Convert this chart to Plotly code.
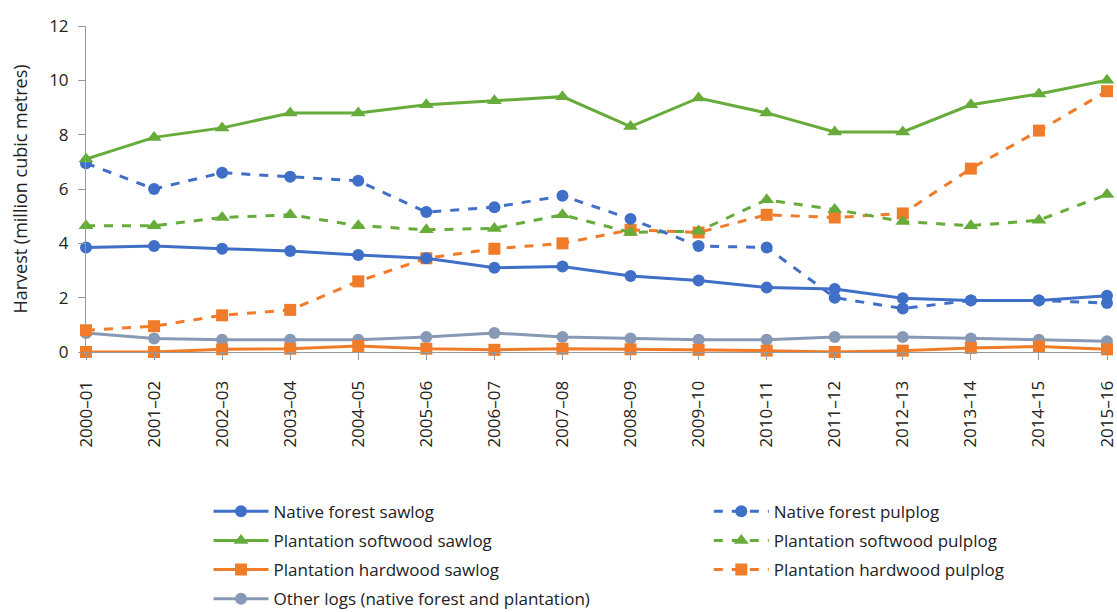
import plotly.graph_objects as go

years = ["2000–01", "2001–02", "2002–03", "2003–04", "2004–05", "2005–06", "2006–07", "2007–08",
         "2008–09", "2009–10", "2010–11", "2011–12", "2012–13", "2013–14", "2014–15", "2015–16"]

native_sawlog = [3.85, 3.9, 3.8, 3.72, 3.57, 3.45, 3.1, 3.15, 2.8, 2.63, 2.37, 2.32, 1.98, 1.9, 1.9, 2.07]
native_pulplog = [6.95, 6.0, 6.6, 6.45, 6.3, 5.15, 5.33, 5.75, 4.9, 3.9, 3.85, 2.0, 1.6, 1.9, 1.9, 1.8]
softwood_sawlog = [7.1, 7.9, 8.25, 8.8, 8.8, 9.1, 9.25, 9.4, 8.3, 9.35, 8.8, 8.1, 8.1, 9.1, 9.5, 10.0]
softwood_pulplog = [4.65, 4.65, 4.95, 5.05, 4.65, 4.5, 4.55, 5.05, 4.4, 4.45, 5.6, 5.25, 4.8, 4.65, 4.85, 5.8]
hardwood_sawlog = [0.0, 0.0, 0.1, 0.12, 0.22, 0.12, 0.08, 0.12, 0.1, 0.08, 0.05, 0.0, 0.05, 0.15, 0.2, 0.1]
hardwood_pulplog = [0.8, 0.95, 1.35, 1.55, 2.6, 3.45, 3.8, 4.0, 4.5, 4.4, 5.05, 4.95, 5.1, 6.75, 8.15, 9.6]
other_logs = [0.7, 0.5, 0.45, 0.45, 0.45, 0.55, 0.7, 0.55, 0.5, 0.45, 0.45, 0.55, 0.55, 0.5, 0.45, 0.4]

BLUE = "#3F6FC6"
GREEN = "#67AC3A"
ORANGE = "#F07C2A"
GREY = "#8799B4"

series = [
    ("Native forest sawlog", native_sawlog, BLUE, "solid", "circle", "legend"),
    ("Plantation softwood sawlog", softwood_sawlog, GREEN, "solid", "triangle-up", "legend"),
    ("Plantation hardwood sawlog", hardwood_sawlog, ORANGE, "solid", "square", "legend"),
    ("Other logs (native forest and plantation)", other_logs, GREY, "solid", "circle", "legend"),
    ("Native forest pulplog", native_pulplog, BLUE, "dash", "circle", "legend2"),
    ("Plantation softwood pulplog", softwood_pulplog, GREEN, "dash", "triangle-up", "legend2"),
    ("Plantation hardwood pulplog", hardwood_pulplog, ORANGE, "dash", "square", "legend2"),
]

draw_order = [3, 2, 6, 5, 4, 0, 1]

fig = go.Figure()
for i in draw_order:
    name, vals, col, dash, sym, leg = series[i]
    fig.add_trace(go.Scatter(
        x=years, y=vals, name=name, mode="lines+markers",
        line=dict(color=col, width=3, dash=dash),
        marker=dict(color=col, size=12 if sym != "triangle-up" else 13, symbol=sym),
        legend=leg, legendrank=i, legendgroup="g%d" % i, cliponaxis=False,
    ))

FONT = "Open Sans, sans-serif"
legend_common = dict(yanchor="top", orientation="v", font=dict(size=17, color="#222"),
                     tracegroupgap=4, itemwidth=55, bgcolor="rgba(0,0,0,0)")
fig.update_layout(
    width=1117, height=612,
    margin=dict(l=86, r=10, t=26, b=260, autoexpand=False),
    paper_bgcolor="white", plot_bgcolor="white",
    font=dict(family=FONT, size=17, color="#222222"),
    showlegend=True,
    legend=dict(x=0.12, y=-0.435, xanchor="left", **legend_common),
    legend2=dict(x=0.61, y=-0.435, xanchor="left", **legend_common),
    xaxis=dict(type="category", range=[0, 15], showline=True, linecolor="#999999", linewidth=1,
               ticks="outside", ticklen=7, tickcolor="#999999", tickangle=-90,
               ticklabelstandoff=14, automargin=False, ticklabeloverflow="allow",
               showgrid=False, zeroline=False, tickfont=dict(size=17, color="#222")),
    yaxis=dict(range=[0, 12], tickvals=[0, 2, 4, 6, 8, 10, 12], showline=True,
               linecolor="#999999", linewidth=1, ticks="outside", ticklen=7,
               tickcolor="#999999", showgrid=False, zeroline=False, automargin=False,
               ticklabelstandoff=6,
               title=dict(text="Harvest (million cubic metres)", font=dict(size=18), standoff=16),
               tickfont=dict(size=17, color="#222")),
)

fig.write_html("out.html", config={"displayModeBar": False},
               post_script="document.body.style.margin='0';document.body.style.padding='0';")
